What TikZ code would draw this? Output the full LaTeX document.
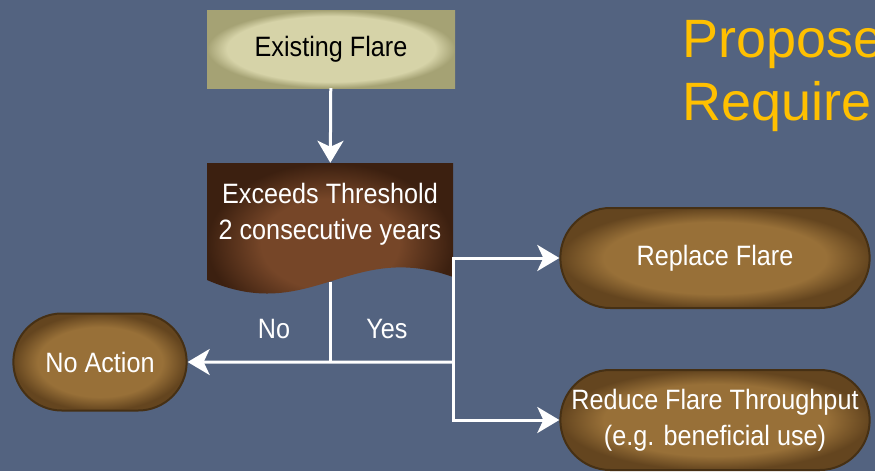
\documentclass[tikz,border=0pt]{standalone}
\usepackage{fontspec}
\setmainfont{Liberation Sans}
\newfontfamily\narrowfont{Liberation Sans}[FakeStretch=0.9]
\usetikzlibrary{arrows.meta,shapes.misc,positioning}

\definecolor{slate}{RGB}{83,99,128}
\definecolor{gold}{RGB}{255,192,0}
\definecolor{khakiIn}{RGB}{214,211,168}
\definecolor{khakiOut}{RGB}{165,162,116}
\definecolor{brownIn}{RGB}{152,112,56}
\definecolor{brownOut}{RGB}{100,69,31}
\definecolor{brownEdge}{RGB}{70,48,20}
\definecolor{maroonIn}{RGB}{118,70,40}
\definecolor{maroonOut}{RGB}{60,32,16}

\pgfdeclareradialshading{khakiglow}{\pgfpoint{0bp}{0bp}}{color(0bp)=(khakiIn); color(21bp)=(khakiIn); color(25bp)=(khakiOut); color(50bp)=(khakiOut)}
\pgfdeclareradialshading{brownglow}{\pgfpoint{0bp}{0bp}}{color(0bp)=(brownIn); color(18bp)=(brownIn); color(25bp)=(brownOut); color(50bp)=(brownOut)}
\pgfdeclareradialshading{maroonglow}{\pgfpoint{0bp}{0bp}}{color(0bp)=(maroonIn); color(14bp)=(maroonIn); color(25bp)=(maroonOut); color(50bp)=(maroonOut)}

\tikzset{
  boxfont/.style={font=\narrowfont\fontsize{28}{36}\selectfont},
  flow/.style={white, line width=3pt},
  flowarrow/.style={flow, -{Stealth[length=22pt,width=26pt,inset=6pt]}},
  startbox/.style={rectangle, shade, shading=khakiglow, minimum width=248pt, minimum height=78pt, boxfont, text=black},
  testbox/.style={rectangle, minimum width=246pt, minimum height=102pt, boxfont, text=white, align=center},
  endcap/.style={rounded rectangle, shade, shading=brownglow, draw=brownEdge, line width=2pt, boxfont, text=white, align=center},
  branchlabel/.style={anchor=base, inner sep=0pt, boxfont, text=white},
  titleline/.style={anchor=base west, inner sep=0pt, text=gold, font=\fontsize{54}{60}\selectfont}
}

\begin{document}
\begin{tikzpicture}[x=1pt, y=-1pt]
  \useasboundingbox (0,0) rectangle (875,471);
  \clip (0,0) rectangle (875,471);
  \fill[slate] (0,0) rectangle (875,471);

  % title, cut off at the right edge
  \node[titleline] (titletop) at (682,57) {Propose};
  \node[titleline] (titlebot) at (682,120) {Require};

  % decision shape with wavy bottom
  \shade[shading=maroonglow] (207,163) -- (453,163) -- (453,277)
    .. controls (350,240) and (310,325) .. coordinate[pos=0.5] (wavemid) (207,280) -- cycle;

  \node[startbox] (existing) at (331,49) {Existing Flare};
  \node[testbox] (exceeds) at (330,214) {Exceeds Threshold\\2 consecutive years};
  \node[endcap, minimum width=180pt, minimum height=97pt] (noaction) at (100,362) {No Action};
  \node[endcap, minimum width=316pt, minimum height=100pt] (replace) at (715,258) {Replace Flare};
  \node[endcap, minimum width=316pt, minimum height=100pt] (reduce) at (715,420) {Reduce Flare Throughput\\(e.g. beneficial use)};

  \node[branchlabel] (nolabel) at (274,338) {No};
  \node[branchlabel] (yeslabel) at (387,338) {Yes};

  \coordinate (split) at (wavemid |- noaction);
  \coordinate (fork) at (453,362);

  \draw[flowarrow] (existing) -- (exceeds);
  \draw[flow] (wavemid) -- (split);
  \draw[flowarrow] (fork) -- (noaction);
  \draw[flowarrow] (fork) |- (replace);
  \draw[flowarrow] (fork) |- (reduce);
\end{tikzpicture}
\end{document}
